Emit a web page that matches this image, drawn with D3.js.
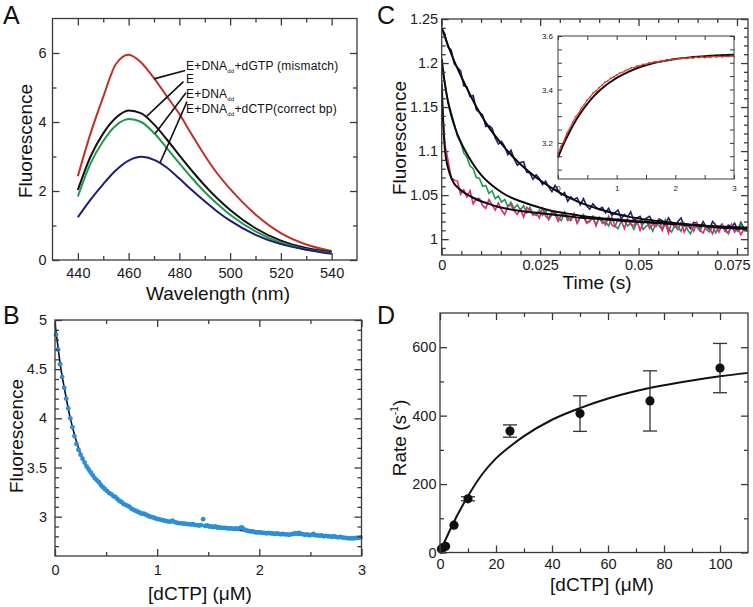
<!DOCTYPE html>
<html><head><meta charset="utf-8">
<script src="https://cdn.jsdelivr.net/npm/d3@7"></script>
<style>body{margin:0;background:#fff}svg{display:block}</style>
</head><body><svg id="c" width="753" height="607"></svg>
<script>
// ---------- Panel A data ----------
const aWavelength = [440,445,450,455,460,465,470,475,480,485,490,495,500,510,520,530,540];
const aMismatch = [2.43,3.67,4.73,5.68,5.95,5.72,5.27,4.75,4.23,3.62,3.03,2.50,2.06,1.32,0.78,0.45,0.26];
const aE        = [2.03,3.00,3.67,4.12,4.33,4.25,3.93,3.50,3.03,2.58,2.16,1.78,1.45,0.92,0.56,0.35,0.23];
const aEDNA     = [1.84,2.80,3.45,3.90,4.09,4.00,3.68,3.25,2.80,2.37,1.97,1.62,1.31,0.83,0.50,0.31,0.20];
const aCorrect  = [1.24,1.75,2.20,2.60,2.88,2.99,2.90,2.68,2.36,2.02,1.70,1.40,1.14,0.73,0.46,0.30,0.18];
const aXTicks = [440,460,480,500,520,540];
const aXMinor = [450,470,490,510,530];
const aYTicks = [0,2,4,6];
const aYMinor = [1,3,5];
// leader lines: [textX, textY, curveX, curveY] in data units
const aLeaders = [[482.3,5.49,470.0,5.25],[481.6,5.17,467.2,4.17],[482.6,4.85,470.4,3.66],[483.0,4.59,472.4,2.82]];
const aLabelY = [5.51,5.12,4.71,4.27];

// ---------- Panel B data ----------
const bDctp0 = 0.01, bDctpStep = 0.02;
const bFluor = [4.85,4.70,4.55,4.42,4.31,4.20,4.10,4.00,3.91,3.82,
3.74,3.68,3.63,3.59,3.55,3.51,3.48,3.45,3.42,3.39,
3.37,3.35,3.32,3.30,3.28,3.26,3.24,3.23,3.21,3.20,
3.18,3.16,3.15,3.13,3.12,3.11,3.10,3.08,3.07,3.06,
3.05,3.04,3.03,3.03,3.02,3.01,3.00,2.995,2.99,2.98,
2.975,2.97,2.965,2.96,2.955,2.95,2.95,2.96,2.945,2.94,
2.935,2.935,2.93,2.93,2.925,2.925,2.92,2.925,2.915,2.915,
2.91,2.915,2.975,2.905,2.91,2.90,2.90,2.895,2.90,2.89,
2.89,2.885,2.885,2.885,2.88,2.88,2.88,2.875,2.88,2.875,
2.885,2.89,2.87,2.86,2.855,2.85,2.85,2.845,2.84,2.84,
2.84,2.835,2.835,2.83,2.835,2.83,2.83,2.825,2.83,2.825,
2.82,2.825,2.82,2.82,2.815,2.82,2.825,2.83,2.83,2.835,
2.825,2.82,2.815,2.82,2.81,2.815,2.825,2.81,2.81,2.805,
2.81,2.80,2.805,2.80,2.80,2.795,2.80,2.795,2.79,2.795,
2.79,2.785,2.785,2.78,2.78,2.78,2.78,2.785,2.785,2.79];
const bFitX = [0,0.02,0.05,0.1,0.15,0.2,0.3,0.4,0.6,0.8,1,1.5,2,2.5,3];
const bFitY = [4.97,4.80,4.56,4.26,4.00,3.80,3.52,3.38,3.18,3.06,2.98,2.90,2.84,2.81,2.78];
const bXTicks = [0,1,2,3], bXMinor = [0.5,1.5,2.5];
const bYTicks = [3,3.5,4,4.5,5];
const bYMinor = [2.7,2.8,2.9,3.1,3.2,3.3,3.4,3.6,3.7,3.8,3.9,4.1,4.2,4.3,4.4,4.6,4.7,4.8,4.9];

// ---------- Panel C data ----------
const cStep = 0.0008;
const cBlue = [1.240,1.233,1.218,1.215,1.199,1.195,1.191,1.174,1.173,1.162,
1.163,1.147,1.144,1.141,1.128,1.129,1.126,1.115,1.108,1.111,
1.105,1.096,1.101,1.091,1.084,1.087,1.088,1.076,1.075,1.068,
1.073,1.069,1.062,1.066,1.059,1.054,1.061,1.055,1.050,1.053,
1.043,1.048,1.045,1.047,1.039,1.046,1.038,1.034,1.040,1.036,
1.034,1.036,1.030,1.035,1.027,1.030,1.033,1.023,1.028,1.025,
1.031,1.021,1.024,1.026,1.018,1.024,1.026,1.019,1.017,1.023,
1.021,1.017,1.024,1.018,1.014,1.020,1.024,1.015,1.017,1.012,
1.019,1.018,1.013,1.020,1.014,1.011,1.020,1.016,1.013,1.017,
1.009,1.016,1.014,1.018,1.010,1.019,1.012,1.009];
const cGreen = [1.194,1.176,1.156,1.144,1.131,1.117,1.110,1.098,1.093,1.083,
1.080,1.070,1.069,1.060,1.061,1.052,1.055,1.046,1.049,1.042,
1.045,1.037,1.042,1.035,1.039,1.033,1.038,1.030,1.036,1.029,
1.027,1.033,1.027,1.033,1.022,1.028,1.031,1.024,1.021,1.031,
1.025,1.021,1.028,1.019,1.025,1.028,1.019,1.021,1.024,1.016,
1.025,1.018,1.020,1.015,1.025,1.015,1.012,1.020,1.021,1.015,
1.018,1.011,1.019,1.021,1.011,1.015,1.017,1.009,1.018,1.015,
1.011,1.022,1.012,1.008,1.016,1.014,1.009,1.018,1.011,1.006,
1.015,1.014,1.009,1.017,1.011,1.008,1.015,1.007,1.014,1.016,
1.010,1.006,1.015,1.013,1.009,1.017,1.010,1.013];
const cMagenta = [1.162,1.107,1.090,1.070,1.067,1.066,1.051,1.056,1.048,1.055,
1.040,1.046,1.046,1.038,1.035,1.045,1.039,1.033,1.041,1.033,
1.028,1.037,1.039,1.032,1.028,1.034,1.025,1.036,1.033,1.027,
1.030,1.024,1.035,1.026,1.023,1.031,1.028,1.020,1.028,1.030,
1.021,1.023,1.029,1.018,1.025,1.026,1.018,1.020,1.026,1.015,
1.024,1.021,1.016,1.026,1.016,1.014,1.023,1.021,1.012,1.023,
1.017,1.015,1.021,1.010,1.019,1.022,1.012,1.017,1.014,1.022,
1.010,1.018,1.007,1.019,1.015,1.011,1.019,1.008,1.015,1.016,
1.009,1.019,1.010,1.007,1.015,1.013,1.006,1.015,1.008,1.016,
1.010,1.007,1.017,1.008,1.013,1.005,1.012,1.014];
const cFitTime = [0,0.0004,0.0008,0.0016,0.0024,0.0032,0.004,0.006,0.008,0.010,0.012,0.014,0.016,0.020,0.024,0.028,0.032,0.036,0.040,0.048,0.056,0.064,0.072,0.0776];
const cFitBlue = [1.240,1.235,1.230,1.220,1.211,1.202,1.194,1.175,1.157,1.141,1.127,1.115,1.104,1.085,1.070,1.058,1.048,1.040,1.034,1.025,1.020,1.016,1.014,1.013];
const cFitGreen = [1.205,1.190,1.177,1.156,1.141,1.129,1.119,1.100,1.085,1.073,1.064,1.057,1.051,1.043,1.037,1.032,1.029,1.026,1.024,1.021,1.018,1.016,1.013,1.012];
const cFitMagenta = [1.177,1.130,1.103,1.081,1.070,1.063,1.059,1.052,1.047,1.043,1.040,1.037,1.035,1.032,1.030,1.028,1.026,1.024,1.023,1.020,1.018,1.016,1.013,1.012];
const cXTicks = [0,0.025,0.05,0.075];
const cXMinor = [0.005,0.01,0.015,0.02,0.03,0.035,0.04,0.045,0.055,0.06,0.065,0.07];
const cYTicks = [1,1.05,1.1,1.15,1.2,1.25];
const cYMinor = [0.99,1.01,1.02,1.03,1.04,1.06,1.07,1.08,1.09,1.11,1.12,1.13,1.14,1.16,1.17,1.18,1.19,1.21,1.22,1.23,1.24];
// inset
const inStep = 0.05;
const inRed = [3.160,3.187,3.207,3.236,3.254,3.277,3.298,3.310,3.331,3.344,
3.361,3.372,3.387,3.395,3.407,3.416,3.427,3.432,3.442,3.447,
3.454,3.461,3.464,3.471,3.475,3.481,3.482,3.488,3.489,3.494,
3.494,3.499,3.500,3.504,3.503,3.507,3.506,3.511,3.510,3.514,
3.512,3.516,3.515,3.518,3.516,3.520,3.517,3.521,3.519,3.523,
3.519,3.522,3.520,3.524,3.521,3.524,3.522,3.524,3.523,3.524,3.524];
const inFitT = [0,0.1,0.2,0.3,0.4,0.5,0.6,0.7,0.8,0.9,1.0,1.2,1.4,1.6,1.8,2.0,2.3,2.6,3.0];
const inFitY = [3.145,3.198,3.243,3.283,3.317,3.346,3.372,3.394,3.413,3.429,3.443,3.466,3.484,3.497,3.506,3.514,3.521,3.526,3.530];
const inXTicks = [0,1,2,3], inXMinor = [0.5,1.5,2.5];
const inYTicks = [3.2,3.4,3.6];
const inYMinor = [3.1,3.15,3.25,3.3,3.35,3.45,3.5,3.55];

// ---------- Panel D data ----------
const dDctp = [0.5,1,2,5,10,25,50,75,100];
const dRate = [10,14,18,80,157,355,406,443,539];
const dErr  = [0,0,0,0,6,18,52,88,72];
const dFitX = [0,2,5,10,15,20,25,30,40,50,60,70,80,90,100,110];
const dFitY = [0,38,90,165,228,275,310,340,388,422,450,472,489,503,515,525];
const dXTicks = [0,20,40,60,80,100], dXMinor = [10,30,50,70,90];
const dYTicks = [0,200,400,600], dYMinor = [100,300,500];

// ---------- drawing ----------
const FONT = '"Liberation Sans", Arial, Helvetica, sans-serif';
const svg = d3.select('#c');
svg.append('rect').attr('width',753).attr('height',607).attr('fill','#fff');
const FRAME = '#3a3a3a';

function frame(x, y, c) {
  const g = svg.append('g');
  const [L, R] = x.range(), [B, T] = y.range();
  const mk = (axis, tx, ty, vals, size, fmt, fs, pad) => {
    axis.tickValues(vals).tickSize(size).tickPadding(pad || 3).tickFormat(fmt || (() => ''));
    const s = g.append('g').attr('transform', `translate(${tx},${ty})`).call(axis);
    s.select('.domain').remove();
    s.selectAll('line').attr('stroke', FRAME).attr('stroke-width', c.sw);
    s.selectAll('text').attr('font-size', fs || 10).attr('fill', '#1a1a1a').attr('font-family', FONT);
    return s;
  };
  mk(d3.axisBottom(x), 0, B, c.xMinor, -c.minor);
  g.xLabels = mk(d3.axisBottom(x), 0, B, c.xTicks, -c.major, c.xFmt, c.fs, c.xPad);
  mk(d3.axisTop(x), 0, T, c.xMinor, -c.minor);
  mk(d3.axisTop(x), 0, T, c.xTicks, -c.major);
  mk(d3.axisLeft(y), L, 0, c.yMinor, -c.minor);
  mk(d3.axisLeft(y), L, 0, c.yTicks, -c.major, c.yFmt, c.fs, c.yPad);
  mk(d3.axisRight(y), R, 0, c.yMinor, -c.minor);
  mk(d3.axisRight(y), R, 0, c.yTicks, -c.major);
  g.append('rect').attr('x', L).attr('y', T).attr('width', R - L).attr('height', B - T)
    .attr('fill', 'none').attr('stroke', FRAME).attr('stroke-width', c.sw);
  return g;
}
function text(x, y, str, fs, anchor, rot) {
  const t = svg.append('text').attr('font-family', FONT).attr('font-size', fs).attr('fill', '#111')
    .attr('text-anchor', anchor || 'middle');
  if (rot) t.attr('transform', `translate(${x},${y}) rotate(-90)`); else t.attr('x', x).attr('y', y);
  t.text(str);
  return t;
}
const fmtPlain = d => String(d);

// ===== Panel A =====
{
  const x = d3.scaleLinear().domain([430, 550]).range([52.5, 357]);
  const y = d3.scaleLinear().domain([0, 7]).range([260, 18.5]);
  const line = d3.line().x(d => x(d[0])).y(d => y(d[1])).curve(d3.curveMonotoneX);
  const series = [[aMismatch,'#c0302a'],[aE,'#111'],[aEDNA,'#22994a'],[aCorrect,'#1d1d78']];
  series.forEach(([vals, col]) => {
    svg.append('path').datum(aWavelength.map((w, i) => [w, vals[i]])).attr('d', line)
      .attr('fill', 'none').attr('stroke', col).attr('stroke-width', 2);
  });
  aLeaders.forEach(l => {
    svg.append('line').attr('x1', x(l[0])).attr('y1', y(l[1])).attr('x2', x(l[2])).attr('y2', y(l[3]))
      .attr('stroke', '#111').attr('stroke-width', 1.6);
  });
  const labels = [['E+DNA','dd','+dGTP (mismatch)'],['E','',''],['E+DNA','dd',''],['E+DNA','dd','+dCTP(correct bp)']];
  labels.forEach((p, i) => {
    const t = svg.append('text').attr('x', x(482.6)).attr('y', y(aLabelY[i]))
      .attr('font-family', FONT).attr('font-size', 12).attr('letter-spacing', 0.2).attr('fill', '#111');
    t.append('tspan').text(p[0]);
    if (p[1]) t.append('tspan').attr('font-size', 6).attr('dy', 3).text(p[1]);
    if (p[2]) t.append('tspan').attr('dy', p[1] ? -3 : 0).text(p[2]);
  });
  frame(x, y, {xTicks: aXTicks, xMinor: aXMinor, yTicks: aYTicks, yMinor: aYMinor, major: 7, minor: 4, sw: 1.3,
    xFmt: fmtPlain, yFmt: fmtPlain, fs: 14.5, xPad: 8, yPad: 6});
  text(218, 300, 'Wavelength (nm)', 19);
  text(32, 141, 'Fluorescence', 19, 'middle', true);
  text(3, 24, 'A', 25, 'start');
}

// ===== Panel B =====
{
  const x = d3.scaleLinear().domain([0, 3]).range([55, 361.5]);
  const y = d3.scaleLinear().domain([2.6, 5]).range([556, 320]);
  const line = d3.line().x(d => x(d[0])).y(d => y(d[1])).curve(d3.curveMonotoneX);
  svg.append('path').datum(bFitX.map((v, i) => [v, bFitY[i]])).attr('d', line)
    .attr('fill', 'none').attr('stroke', '#111').attr('stroke-width', 1.6);
  svg.append('g').selectAll('circle').data(bFluor).join('circle')
    .attr('cx', (d, i) => x(bDctp0 + i * bDctpStep)).attr('cy', d => y(d)).attr('r', 2.4)
    .attr('fill', '#2b8fd6');
  frame(x, y, {xTicks: bXTicks, xMinor: bXMinor, yTicks: bYTicks, yMinor: bYMinor, major: 7, minor: 4, sw: 1.3,
    xFmt: fmtPlain, yFmt: fmtPlain, fs: 14.5, xPad: 9, yPad: 8});
  text(200, 600, '[dCTP] (\u03BCM)', 19);
  text(23, 436, 'Fluorescence', 19, 'middle', true);
  text(3, 324, 'B', 25, 'start');
}

// ===== Panel C =====
{
  const x = d3.scaleLinear().domain([0, 0.0778]).range([441.7, 748]);
  const y = d3.scaleLinear().domain([0.982, 1.25]).range([255, 19]);
  const lin = d3.line().x(d => x(d[0])).y(d => y(d[1]));
  const smooth = d3.line().x(d => x(d[0])).y(d => y(d[1])).curve(d3.curveMonotoneX);
  svg.append('clipPath').attr('id', 'clipC').append('rect')
    .attr('x', 441.7).attr('y', 19).attr('width', 748 - 441.7).attr('height', 255 - 19);
  const gC = svg.append('g').attr('clip-path', 'url(#clipC)');
  [[cBlue,'#1f1f72'],[cGreen,'#1f9a4c'],[cMagenta,'#df2a7c']].forEach(([vals, col]) => {
    gC.append('path').datum(vals.map((v, i) => [i * cStep, v])).attr('d', lin)
      .attr('fill', 'none').attr('stroke', col).attr('stroke-width', 1.6);
  });
  [cFitBlue, cFitGreen, cFitMagenta].forEach(vals => {
    gC.append('path').datum(cFitTime.map((t, i) => [t, vals[i]])).attr('d', smooth)
      .attr('fill', 'none').attr('stroke', '#0a0a0a').attr('stroke-width', 2);
  });
  const fmtC = d => d === 0 ? '0' : String(d);
  const fc = frame(x, y, {xTicks: cXTicks, xMinor: cXMinor, yTicks: cYTicks, yMinor: cYMinor, major: 7, minor: 4, sw: 1.3,
    xFmt: fmtC, yFmt: fmtC, fs: 14.5, xPad: 5, yPad: 3.5});
  fc.xLabels.selectAll('text').filter(d => d === 0.075).attr('dx', -5);
  text(597, 289, 'Time (s)', 19);
  text(406, 138, 'Fluorescence', 19, 'middle', true);
  text(377, 24, 'C', 25, 'start');

  // inset
  const ix = d3.scaleLinear().domain([0, 3]).range([558, 734]);
  const iy = d3.scaleLinear().domain([3.065, 3.6]).range([179, 36]);
  svg.append('rect').attr('x', 558).attr('y', 36).attr('width', 176).attr('height', 143).attr('fill', '#fff');
  const il = d3.line().x(d => ix(d[0])).y(d => iy(d[1])).curve(d3.curveMonotoneX);
  svg.append('path').datum(inFitT.map((t, i) => [t, inFitY[i]])).attr('d', il)
    .attr('fill', 'none').attr('stroke', '#111').attr('stroke-width', 2);
  svg.append('path').datum(inRed.map((v, i) => [i * inStep, v])).attr('d', d3.line().x(d => ix(d[0])).y(d => iy(d[1])))
    .attr('fill', 'none').attr('stroke', '#e03a2a').attr('stroke-width', 1.1);
  svg.append('g').selectAll('circle').data(inRed).join('circle')
    .attr('cx', (d, i) => ix(i * inStep)).attr('cy', d => iy(d)).attr('r', 0.9).attr('fill', '#e03a2a');
  frame(ix, iy, {xTicks: inXTicks, xMinor: inXMinor, yTicks: inYTicks, yMinor: inYMinor, major: 4, minor: 4, sw: 1,
    xFmt: fmtPlain, yFmt: d => d.toFixed(1), fs: 8, xPad: 6, yPad: 5});
}

// ===== Panel D =====
{
  const x = d3.scaleLinear().domain([0, 110]).range([440, 748]);
  const y = d3.scaleLinear().domain([0, 700]).range([552.5, 313]);
  const line = d3.line().x(d => x(d[0])).y(d => y(d[1])).curve(d3.curveMonotoneX);
  svg.append('path').datum(dFitX.map((v, i) => [v, dFitY[i]])).attr('d', line)
    .attr('fill', 'none').attr('stroke', '#111').attr('stroke-width', 2);
  const eg = svg.append('g').attr('stroke', '#333').attr('stroke-width', 1.3);
  dDctp.forEach((c, i) => {
    if (!dErr[i]) return;
    const cx = x(c), y1 = y(dRate[i] - dErr[i]), y2 = y(dRate[i] + dErr[i]);
    eg.append('line').attr('x1', cx).attr('x2', cx).attr('y1', y1).attr('y2', y2);
    eg.append('line').attr('x1', cx - 7).attr('x2', cx + 7).attr('y1', y1).attr('y2', y1);
    eg.append('line').attr('x1', cx - 7).attr('x2', cx + 7).attr('y1', y2).attr('y2', y2);
  });
  svg.append('g').selectAll('circle').data(dDctp).join('circle')
    .attr('cx', d => x(d)).attr('cy', (d, i) => y(dRate[i])).attr('r', 4.6).attr('fill', '#111');
  frame(x, y, {xTicks: dXTicks, xMinor: dXMinor, yTicks: dYTicks, yMinor: dYMinor, major: 7, minor: 4, sw: 1.3,
    xFmt: fmtPlain, yFmt: fmtPlain, fs: 14.5, xPad: 6, yPad: 3.5});
  text(602, 591, '[dCTP] (\u03BCM)', 19);
  const rt = svg.append('text').attr('font-family', FONT).attr('font-size', 19).attr('fill', '#111')
    .attr('text-anchor', 'middle').attr('transform', 'translate(406,438) rotate(-90)');
  rt.append('tspan').text('Rate (s');
  rt.append('tspan').attr('font-size', 10).attr('dy', -8).text('-1');
  rt.append('tspan').attr('dy', 8).text(')');
  text(377, 324, 'D', 25, 'start');
}
</script></body></html>
